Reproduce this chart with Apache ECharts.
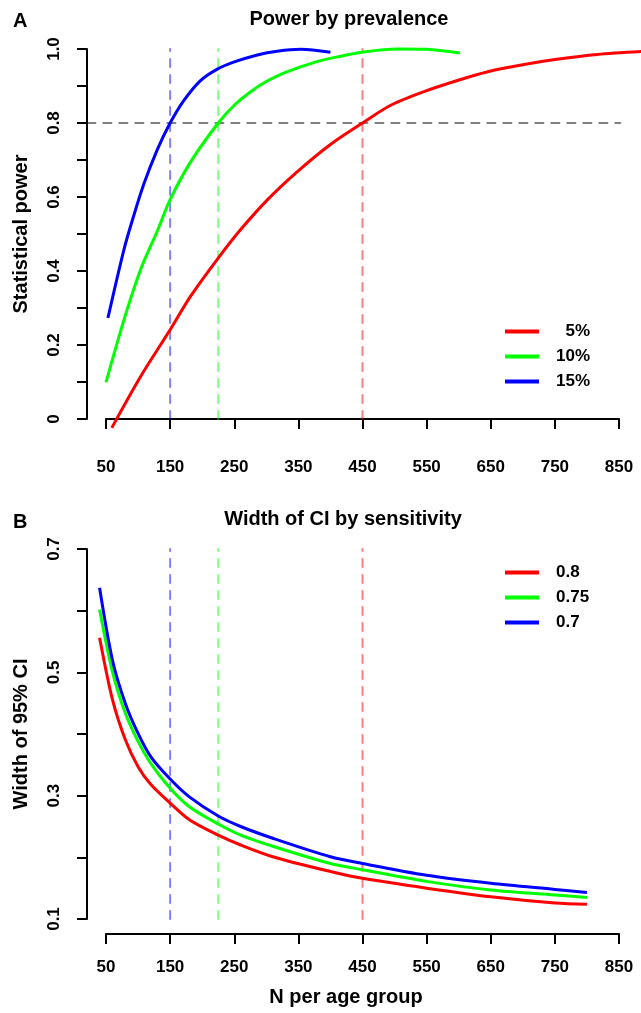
<!DOCTYPE html>
<html>
<head>
<meta charset="utf-8">
<script src="https://cdn.jsdelivr.net/npm/echarts@6/dist/echarts.min.js"></script>
<style>
html, body { margin: 0; padding: 0; background: #fff; }
#chart { width: 641px; height: 1013px; }
</style>
</head>
<body>
<div id="chart"></div>
<script>
// panel A: power by prevalence (N, power)
var powerN5 = [59, 104, 150, 182, 225, 260, 302, 348, 400, 450, 494, 546, 598, 644, 702, 753, 816, 885];
var power5 = [-0.024, 0.115, 0.241, 0.332, 0.435, 0.512, 0.593, 0.668, 0.742, 0.80, 0.848, 0.885, 0.915, 0.938, 0.958, 0.972, 0.985, 0.993];
var powerN10 = [50, 78, 104, 130, 150, 182, 225, 250, 275, 300, 327, 379, 420, 451, 504, 550, 602];
var power10 = [0.099, 0.268, 0.404, 0.508, 0.593, 0.695, 0.80, 0.848, 0.884, 0.912, 0.935, 0.966, 0.982, 0.992, 1.0, 0.999, 0.989];
var powerN15 = [53, 78, 93, 109, 130, 150, 171, 197, 223, 250, 286, 317, 354, 400];
var power15 = [0.273, 0.458, 0.548, 0.635, 0.728, 0.80, 0.86, 0.914, 0.945, 0.965, 0.984, 0.994, 0.999, 0.991];
var powerNames = ['  5%', '10%', '15%'];

// panel B: width of 95% CI by sensitivity
var ciN = [40, 60, 80, 100, 120, 150, 180, 225, 260, 310, 400, 450, 550, 650, 750, 800];
var ci80 = [0.556, 0.456, 0.391, 0.347, 0.318, 0.288, 0.261, 0.236, 0.220, 0.201, 0.177, 0.166, 0.150, 0.136, 0.126, 0.124];
var ci75 = [0.602, 0.501, 0.434, 0.388, 0.352, 0.312, 0.282, 0.254, 0.236, 0.218, 0.190, 0.180, 0.161, 0.147, 0.139, 0.135];
var ci70 = [0.637, 0.520, 0.450, 0.401, 0.363, 0.327, 0.298, 0.267, 0.250, 0.231, 0.201, 0.190, 0.171, 0.158, 0.148, 0.143];
var ciNames = ['0.8', '0.75', '0.7'];

// reference lines
var targetN = [150, 225, 450];
var targetPower = 0.8;
var hLineN = [21, 852];

var colors = ['#ff0000', '#00ff00', '#0000ff'];
var dashColors = ['rgba(0,0,255,0.5)', 'rgba(0,255,0,0.5)', 'rgba(255,0,0,0.5)'];
var font = 'Liberation Sans, Arial, sans-serif';

// pixel layout: N 50..850 over 513px, visible axes sit on grids 0/1,
// the curves live on wider hidden grids 2/3 with the same scale
var pxPerN = 513 / 800;
var dataMinN = 20, dataMaxN = 900;

function pairs(xs, ys) {
    return xs.map(function(x, i) { return [x, ys[i]]; });
}

function curve(name, xs, ys, color, idx) {
    return {
        name: name,
        type: 'line',
        xAxisIndex: idx,
        yAxisIndex: idx,
        data: pairs(xs, ys),
        symbol: 'none',
        smooth: 0.3,
        clip: false,
        color: color,
        lineStyle: { color: color, width: 3 },
        z: 3
    };
}

function refLine(data, color, idx) {
    return {
        type: 'line',
        xAxisIndex: idx,
        yAxisIndex: idx,
        data: data,
        symbol: 'none',
        clip: false,
        silent: true,
        lineStyle: { color: color, width: 2, type: [8, 8], cap: 'round' },
        z: 2
    };
}

function xAxis(idx) {
    return {
        type: 'value',
        gridIndex: idx,
        min: 50,
        max: 850,
        interval: 100,
        offset: 15,
        splitLine: { show: false },
        axisLine: { lineStyle: { color: '#000', width: 2 } },
        axisTick: { length: 10, lineStyle: { color: '#000', width: 2 } },
        axisLabel: { margin: 25, color: '#000', fontSize: 17, fontWeight: 'bold', fontFamily: font }
    };
}

function yAxis(idx, min, max, name, keep) {
    return {
        type: 'value',
        gridIndex: idx,
        min: min,
        max: max,
        interval: 0.1,
        offset: 19,
        name: name,
        nameLocation: 'middle',
        nameRotate: 90,
        nameGap: 56,
        nameTextStyle: { color: '#000', fontSize: 20, fontWeight: 'bold', fontFamily: font },
        splitLine: { show: false },
        axisLine: { lineStyle: { color: '#000', width: 2 } },
        axisTick: { length: 10, lineStyle: { color: '#000', width: 2 } },
        axisLabel: {
            rotate: 90,
            margin: 24,
            color: '#000',
            fontSize: 17,
            fontWeight: 'bold',
            fontFamily: font,
            formatter: function(v) {
                var k = Math.round(v * 10);
                if (k % 2 !== keep) return '';
                return k === 0 ? '0' : (k / 10).toFixed(1);
            }
        }
    };
}

function hiddenAxis(idx, min, max) {
    return { type: 'value', gridIndex: idx, min: min, max: max, show: false, splitLine: { show: false } };
}

function legend(names, top) {
    return {
        data: names,
        orient: 'vertical',
        left: 505,
        top: top,
        padding: 0,
        icon: 'rect',
        itemWidth: 34,
        itemHeight: 4,
        itemGap: 8,
        selectedMode: false,
        textStyle: { color: '#000', fontSize: 17, fontWeight: 'bold', fontFamily: font, lineHeight: 14, padding: [0, 0, 0, 12] }
    };
}

var titleStyle = { color: '#000', fontSize: 20, fontWeight: 'bold', fontFamily: font };

var series = [
    curve(powerNames[0], powerN5, power5, colors[0], 2),
    curve(powerNames[1], powerN10, power10, colors[1], 2),
    curve(powerNames[2], powerN15, power15, colors[2], 2),
    curve(ciNames[0], ciN, ci80, colors[0], 3),
    curve(ciNames[1], ciN, ci75, colors[1], 3),
    curve(ciNames[2], ciN, ci70, colors[2], 3),
    refLine([[hLineN[0], targetPower], [hLineN[1], targetPower]], 'rgba(0,0,0,0.5)', 2)
];
targetN.forEach(function(n, i) {
    series.push(refLine([[n, 0], [n, 1]], dashColors[i], 2));
    series.push(refLine([[n, 0.1], [n, 0.7]], dashColors[i], 3));
});

var gLeft = 106 - (50 - dataMinN) * pxPerN;
var gWidth = (dataMaxN - dataMinN) * pxPerN;

var chart = echarts.init(document.getElementById('chart'));
chart.setOption({
    animation: false,
    backgroundColor: '#fff',
    title: [
        { text: 'A', left: 13, top: 11, padding: 0, textStyle: titleStyle },
        { text: 'Power by prevalence', left: 349, top: 9, textAlign: 'center', padding: 0, textStyle: titleStyle },
        { text: 'B', left: 13, top: 512, padding: 0, textStyle: titleStyle },
        { text: 'Width of CI by sensitivity', left: 343, top: 509, textAlign: 'center', padding: 0, textStyle: titleStyle },
        { text: 'N per age group', left: 346, top: 987, textAlign: 'center', padding: 0, textStyle: titleStyle }
    ],
    legend: [legend(powerNames, 323), legend(ciNames, 564)],
    grid: [
        { left: 106, width: 513, top: 49, height: 370, outerBoundsMode: 'none' },
        { left: 106, width: 513, top: 549, height: 370, outerBoundsMode: 'none' },
        { left: gLeft, width: gWidth, top: 12, height: 444, outerBoundsMode: 'none' },
        { left: gLeft, width: gWidth, top: 549 - 370 / 6, height: 370 * 8 / 6, outerBoundsMode: 'none' }
    ],
    xAxis: [xAxis(0), xAxis(1), hiddenAxis(2, dataMinN, dataMaxN), hiddenAxis(3, dataMinN, dataMaxN)],
    yAxis: [
        yAxis(0, 0, 1, 'Statistical power', 0),
        yAxis(1, 0.1, 0.7, 'Width of 95% CI', 1),
        hiddenAxis(2, -0.1, 1.1),
        hiddenAxis(3, 0, 0.8)
    ],
    series: series
});
</script>
</body>
</html>
